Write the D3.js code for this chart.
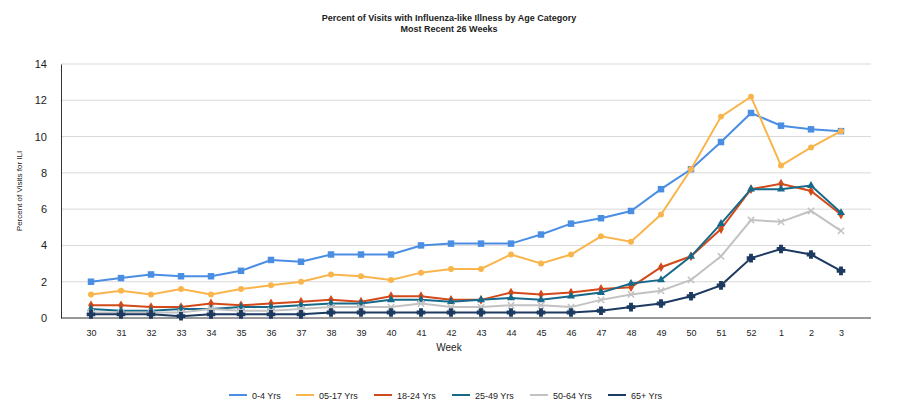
<!DOCTYPE html>
<html>
<head>
<meta charset="utf-8">
<script src="https://cdn.jsdelivr.net/npm/d3@7"></script>
<style>
  body { margin: 0; background: #fff; }
  text { font-family: "Liberation Sans", Arial, sans-serif; fill: #222; }
</style>
</head>
<body>
<svg id="chart" width="899" height="418"></svg>
<script>
const weeks = ["30","31","32","33","34","35","36","37","38","39","40","41","42","43","44","45","46","47","48","49","50","51","52","1","2","3"];
const seriesNames = ["0-4 Yrs", "05-17 Yrs", "18-24 Yrs", "25-49 Yrs", "50-64 Yrs", "65+ Yrs"];
const age0to4 = [2.0,2.2,2.4,2.3,2.3,2.6,3.2,3.1,3.5,3.5,3.5,4.0,4.1,4.1,4.1,4.6,5.2,5.5,5.9,7.1,8.2,9.7,11.3,10.6,10.4,10.3];
const age5to17 = [1.3,1.5,1.3,1.6,1.3,1.6,1.8,2.0,2.4,2.3,2.1,2.5,2.7,2.7,3.5,3.0,3.5,4.5,4.2,5.7,8.2,11.1,12.2,8.4,9.4,10.3];
const age18to24 = [0.7,0.7,0.6,0.6,0.8,0.7,0.8,0.9,1.0,0.9,1.2,1.2,1.0,1.0,1.4,1.3,1.4,1.6,1.7,2.8,3.4,4.9,7.1,7.4,7.0,5.7];
const age25to49 = [0.5,0.4,0.4,0.5,0.5,0.6,0.6,0.7,0.8,0.8,1.0,1.0,0.9,1.0,1.1,1.0,1.2,1.4,1.9,2.1,3.4,5.2,7.1,7.1,7.3,5.8];
const age50to64 = [0.3,0.3,0.3,0.3,0.5,0.4,0.4,0.5,0.6,0.6,0.6,0.8,0.6,0.6,0.7,0.7,0.6,1.0,1.3,1.5,2.1,3.4,5.4,5.3,5.9,4.8];
const age65plus = [0.2,0.2,0.2,0.1,0.2,0.2,0.2,0.2,0.3,0.3,0.3,0.3,0.3,0.3,0.3,0.3,0.3,0.4,0.6,0.8,1.2,1.8,3.3,3.8,3.5,2.6];
const yTicks = [0, 2, 4, 6, 8, 10, 12, 14];

const colors = ["#4a8ee3", "#f9b54c", "#d24a1a", "#17698a", "#c2c2c2", "#1d3a61"];
const symbols = [d3.symbolSquare, d3.symbolCircle, d3.symbolDiamond, d3.symbolTriangle, d3.symbolX, d3.symbolCross];
const allValues = [age0to4, age5to17, age18to24, age25to49, age50to64, age65plus];

const svg = d3.select("#chart");
const plotLeft = 61, plotRight = 871, plotTop = 64, plotBottom = 318;

const x = d3.scalePoint().domain(weeks).range([plotLeft, plotRight]).padding(1);
const y = d3.scaleLinear().domain([0, 14]).range([plotBottom, plotTop]);

// grid
svg.append("g")
  .selectAll("line")
  .data(yTicks.slice(1))
  .join("line")
  .attr("x1", plotLeft).attr("x2", plotRight)
  .attr("y1", (d) => y(d)).attr("y2", (d) => y(d))
  .attr("stroke", "#d9d9d9");

svg.append("g")
  .attr("transform", `translate(${plotLeft},0)`)
  .call(d3.axisLeft(y).tickValues(yTicks).tickSize(0).tickPadding(14))
  .call((g) => g.select(".domain").attr("stroke", "#333"))
  .selectAll("text").attr("font-size", 11);

svg.append("g")
  .attr("transform", `translate(0,${plotBottom})`)
  .call(d3.axisBottom(x).tickSize(0).tickPadding(12))
  .call((g) => g.select(".domain").attr("stroke", "#333").attr("d", `M${plotLeft},0H${plotRight}`))
  .selectAll("text").attr("font-size", 9);

const line = d3.line().x((d, i) => x(weeks[i])).y((d) => y(d));

allValues.forEach((vals, k) => {
  const g = svg.append("g");
  g.append("path")
    .attr("d", line(vals))
    .attr("fill", "none")
    .attr("stroke", colors[k])
    .attr("stroke-width", 2);
  g.selectAll("path.m")
    .data(vals)
    .join("path")
    .attr("class", "m")
    .attr("transform", (d, i) => `translate(${x(weeks[i])},${y(d)})`)
    .attr("d", d3.symbol().type(symbols[k]).size(k < 1 ? 42 : 28))
    .attr("fill", colors[k])
    .attr("stroke", k >= 4 ? colors[k] : "none")
    .attr("stroke-width", 1.5);
});

svg.append("text").attr("x", 449).attr("y", 21).attr("text-anchor", "middle")
  .attr("font-size", 9).attr("font-weight", "bold")
  .text("Percent of Visits with Influenza-like Illness by Age Category");
svg.append("text").attr("x", 449).attr("y", 32).attr("text-anchor", "middle")
  .attr("font-size", 9).attr("font-weight", "bold")
  .text("Most Recent 26 Weeks");

svg.append("text").attr("x", 449).attr("y", 351).attr("text-anchor", "middle")
  .attr("font-size", 10).text("Week");

svg.append("text")
  .attr("transform", `translate(22,${(plotTop + plotBottom) / 2}) rotate(-90)`)
  .attr("text-anchor", "middle").attr("font-size", 8)
  .text("Percent of Visits for ILI");

// legend
const legendX = [229, 296, 374, 452, 530, 608];
const legend = svg.append("g").selectAll("g")
  .data(seriesNames)
  .join("g")
  .attr("transform", (d, i) => `translate(${legendX[i]},395)`);
legend.append("line").attr("x1", 0).attr("x2", 18)
  .attr("stroke", (d, i) => colors[i]).attr("stroke-width", 2);
legend.append("text").attr("x", 23).attr("y", 3.5)
  .attr("font-size", 9).text((d) => d);
</script>
</body>
</html>
